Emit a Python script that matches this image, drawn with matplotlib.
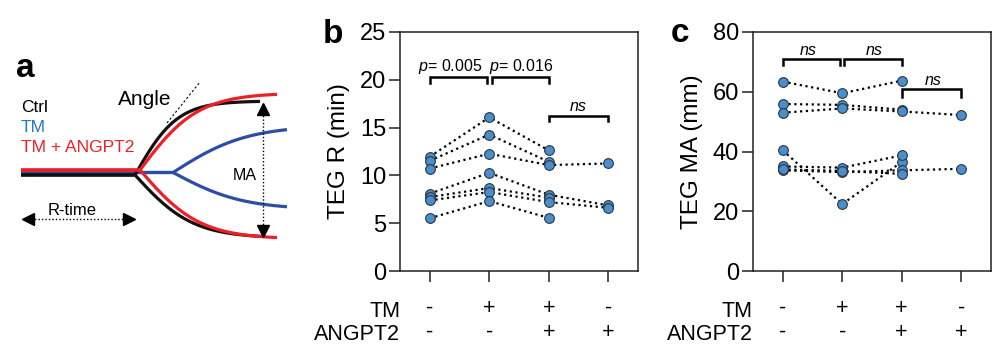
import numpy as np
import matplotlib
matplotlib.use("Agg")
import matplotlib.pyplot as plt
from matplotlib.transforms import blended_transform_factory

plt.rcParams['font.family'] = ['Liberation Sans', 'DejaVu Sans']
plt.rcParams['mathtext.fontset'] = 'custom'
plt.rcParams['mathtext.it'] = 'Liberation Sans:italic'
plt.rcParams['mathtext.rm'] = 'Liberation Sans'

# ---------------- data ----------------
groups = [0, 1, 2, 3]
tm_signs = ['-', '+', '+', '-']
angpt2_signs = ['-', '-', '+', '+']

# TEG R (min), one list per group, index = donor (nan = not measured)
teg_r_ctrl = [11.95, 11.53, 10.72, 8.09, 7.74, 7.38, 5.52]
teg_r_tm = [16.07, 14.27, 12.27, 10.27, 8.68, 8.26, 7.31]
teg_r_tm_angpt2 = [12.62, 11.43, 11.08, 7.98, 7.67, 7.21, 5.56]
teg_r_angpt2 = [np.nan, np.nan, 11.25, 6.86, np.nan, 6.61, np.nan]

# TEG MA (mm)
teg_ma_ctrl = [63.4, 55.9, 53.0, 40.4, 35.0, 33.7, 34.0]
teg_ma_tm = [59.5, 55.6, 54.4, 22.4, 34.6, 33.1, 33.5]
teg_ma_tm_angpt2 = [63.7, 54.0, 53.4, 36.5, 38.7, 33.7, 32.5]
teg_ma_angpt2 = [np.nan, np.nan, 52.2, np.nan, np.nan, 34.2, np.nan]

r_ticks = [0, 5, 10, 15, 20, 25]
ma_ticks = [0, 20, 40, 60, 80]

W, H = 992, 345
fig = plt.figure(figsize=(W / 100, H / 100), dpi=100)

def rect(x0, y0, x1, y1):
    return [x0 / W, 1 - y1 / H, (x1 - x0) / W, (y1 - y0) / H]

PT_COLOR = '#4a8fcc'
EDGE = '#2a3540'

def scatter_panel(ax, series, ticks, ylabel, ylab_x):
    data = np.array(series)  # groups x donors
    for d in range(data.shape[1]):
        ax.plot(groups, data[:, d], color='black', lw=1.6,
                ls=(0, (1, 1.6)), zorder=2, clip_on=False)
    for g in groups:
        ax.plot([g] * data.shape[1], data[g], 'o', ms=7, mfc=PT_COLOR,
                mec=EDGE, mew=0.8, zorder=3, clip_on=False, ls='none')
    ax.set_xlim(-0.5, 3.5)
    ax.set_ylim(ticks[0], ticks[-1])
    ax.set_yticks(ticks)
    ax.set_xticks(groups)
    ax.set_xticklabels([])
    for s in ax.spines.values():
        s.set_linewidth(1.1)
        s.set_color('#222222')
    ax.tick_params(axis='both', direction='out', length=8, width=1.1,
                   color='#222222', labelsize=17, pad=2)
    ax.set_ylabel(ylabel, fontsize=17.5)
    ax.yaxis.set_label_coords(ylab_x, 0.5)
    tr = blended_transform_factory(ax.transData, fig.transFigure)
    tra = blended_transform_factory(ax.transAxes, fig.transFigure)
    ax.text(0, 1 - 317 / H, 'TM', transform=tra, ha='right',
            va='baseline', fontsize=15.5)
    ax.text(0, 1 - 340.5 / H, 'ANGPT2', transform=tra, ha='right',
            va='baseline', fontsize=15.5)
    for g in groups:
        ax.text(g, 1 - 308.5 / H, tm_signs[g], transform=tr, ha='center',
                va='center', fontsize=15.5)
        ax.text(g, 1 - 332.5 / H, angpt2_signs[g], transform=tr, ha='center',
                va='center', fontsize=15.5)

def bracket(ax, x0, x1, y, leg, label, lx, ly):
    ax.plot([x0, x0, x1, x1], [y - leg, y, y, y - leg], color='black',
            lw=1.8, clip_on=False, zorder=4, solid_joinstyle='miter')
    ax.text(lx, ly, label, ha='center', va='bottom', fontsize=11.5,
            style='italic' if label == 'ns' else 'normal')

# ---------------- panel b ----------------
axb = fig.add_axes(rect(400, 32, 638, 271))
scatter_panel(axb, [teg_r_ctrl, teg_r_tm, teg_r_tm_angpt2, teg_r_angpt2],
              r_ticks, 'TEG R (min)', -0.21)
bracket(axb, 0, 0.96, 20.3, 0.6, r'$p$= 0.005', 0.34, 20.35)
bracket(axb, 1.04, 2, 20.3, 0.6, r'$p$= 0.016', 1.53, 20.35)
bracket(axb, 2, 3, 16.2, 0.5, 'ns', 2.5, 16.45)

# ---------------- panel c ----------------
axc = fig.add_axes(rect(753, 32, 991, 271))
scatter_panel(axc, [teg_ma_ctrl, teg_ma_tm, teg_ma_tm_angpt2, teg_ma_angpt2],
              ma_ticks, 'TEG MA (mm)', -0.21)
bracket(axc, 0, 0.97, 70.9, 2.1, 'ns', 0.42, 71.4)
bracket(axc, 1.03, 2, 70.9, 2.1, 'ns', 1.53, 71.4)
bracket(axc, 2, 3, 60.8, 2.5, 'ns', 2.52, 61.3)

# panel letters
fig.text(16 / W, 1 - 77 / H, 'a', fontsize=24, fontweight='bold', va='baseline')
fig.text(323 / W, 1 - 43 / H, 'b', fontsize=24, fontweight='bold', va='baseline')
fig.text(671 / W, 1 - 42 / H, 'c', fontsize=24, fontweight='bold', va='baseline')

# ---------------- panel a (schematic) ----------------
axa = fig.add_axes([0, 0, 300 / W, 1])
axa.set_xlim(0, 300)
axa.set_ylim(H, 0)
axa.axis('off')

def curve(x_end, x0, base, amp, tau):
    x = np.linspace(21, x_end, 400)
    return x, base + amp * np.tanh(np.clip(x - x0, 0, None) / tau)

BLACK, RED, BLUE = '#111111', '#ee1f26', '#2d4ea5'
lw = 2.3
for args in [(287, 173, 172.5, -47, 74), (287, 173, 172.5, 37, 70)]:
    axa.plot(*curve(*args), color=BLUE, lw=lw, solid_capstyle='butt')
for args in [(260, 135, 175, -74, 42.5), (263, 135, 175, 63, 58)]:
    axa.plot(*curve(*args), color=BLACK, lw=lw, solid_capstyle='butt')
for args in [(277, 140, 170, -77, 58), (277, 140, 170, 69, 60)]:
    axa.plot(*curve(*args), color=RED, lw=lw, solid_capstyle='butt')

axa.text(21, 112.5, 'Ctrl', color='black', fontsize=12.5, va='baseline')
axa.text(21, 132, 'TM', color='#1f78c4', fontsize=12.5, va='baseline')
axa.text(21, 151.5, 'TM + ANGPT2', color=RED, fontsize=12.5, va='baseline')
axa.text(118, 105, 'Angle', fontsize=15, va='baseline')
axa.plot([167, 200], [123, 82], color='black', lw=0.8, ls=(0, (2, 2)))

# MA arrow
axa.plot([263, 263], [112, 226], color='black', lw=1.0, ls=(0, (1, 1.5)))
axa.plot([263], [108.5], marker='^', ms=9, color='black', ls='none')
axa.plot([263], [230.5], marker='v', ms=9, color='black', ls='none')
axa.text(233, 180, 'MA', fontsize=11.5, va='baseline')

# R-time arrow
axa.plot([31, 125], [219, 219], color='black', lw=1.0, ls=(0, (1, 1.5)))
axa.plot([27.5], [219], marker='<', ms=9, color='black', ls='none')
axa.plot([128.5], [219], marker='>', ms=9, color='black', ls='none')
axa.text(48, 215, 'R-time', fontsize=12, va='baseline')

fig.savefig('out.png', dpi=100)
